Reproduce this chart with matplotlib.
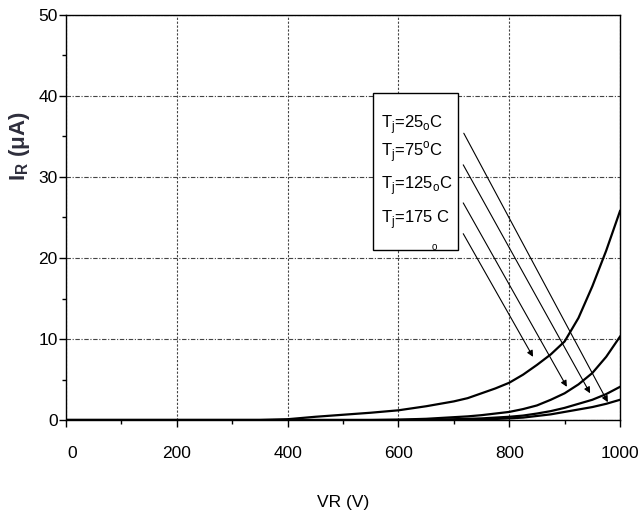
import matplotlib
matplotlib.use("Agg")
import matplotlib.pyplot as plt
import matplotlib.transforms as mtransforms
from matplotlib.patches import Rectangle
from matplotlib.ticker import MultipleLocator

plt.rcParams['font.family'] = ['Liberation Sans', 'DejaVu Sans']
plt.rcParams['mathtext.fontset'] = 'custom'
plt.rcParams['mathtext.rm'] = 'Liberation Sans'
plt.rcParams['mathtext.bf'] = 'Liberation Sans:bold'

# reverse voltage (V)
vr = [0, 50, 100, 150, 200, 250, 300, 350, 400, 450, 500, 550, 600, 650,
      700, 725, 750, 775, 800, 825, 850, 875, 900, 925, 950, 975, 1000]

# leakage current (uA)
ir_25 = [0, 0, 0, 0, 0, 0, 0, 0, 0.1, 0.4, 0.65, 0.9, 1.2, 1.7,
         2.3, 2.7, 3.3, 3.9, 4.6, 5.6, 6.8, 8.1, 9.7, 12.6, 16.5, 20.9, 25.8]
ir_75 = [0, 0, 0, 0, 0, 0, 0, 0, 0, 0, 0, 0, 0.05, 0.15,
         0.35, 0.45, 0.6, 0.8, 1.0, 1.35, 1.8, 2.5, 3.3, 4.4, 5.8, 7.8, 10.3]
ir_125 = [0, 0, 0, 0, 0, 0, 0, 0, 0, 0, 0, 0, 0, 0.02,
          0.1, 0.15, 0.2, 0.3, 0.4, 0.55, 0.8, 1.1, 1.5, 2.0, 2.5, 3.2, 4.1]
ir_175 = [0, 0, 0, 0, 0, 0, 0, 0, 0, 0, 0, 0, 0, 0,
          0.02, 0.05, 0.08, 0.13, 0.2, 0.3, 0.5, 0.7, 1.0, 1.3, 1.6, 2.0, 2.5]

curves = [ir_25, ir_75, ir_125, ir_175]

# legend text and where its arrow points
labels = [r"T$_\mathrm{j}$=25$_\mathrm{o}$C",
          r"T$_\mathrm{j}$=75$^\mathrm{o}$C",
          r"T$_\mathrm{j}$=125$_\mathrm{o}$C",
          r"T$_\mathrm{j}$=175 C"]
label_y = [36.5, 33.0, 28.9, 24.7]
arrow_start = [(718, 35.4), (717, 31.5), (717, 26.8), (717, 23.0)]
arrow_end = [(978, 2.2), (946, 3.3), (904, 4.1), (843, 7.8)]

fig = plt.figure(figsize=(6.39, 5.16), dpi=100)
ax = fig.add_axes([0.1033, 0.186, 0.867, 0.785])

for c in curves:
    ax.plot(vr, c, color='black', lw=1.6, zorder=3)

ax.set_xlim(0, 1000)
ax.set_ylim(0, 50)
ax.xaxis.set_major_locator(MultipleLocator(200))
ax.xaxis.set_minor_locator(MultipleLocator(100))
ax.yaxis.set_major_locator(MultipleLocator(10))
ax.yaxis.set_minor_locator(MultipleLocator(5))

ax.grid(True, which='major', axis='y', color='#444444', lw=0.8,
        ls=(0, (4, 1.5, 1, 1.5)))
ax.grid(True, which='major', axis='x', color='#444444', lw=0.8,
        ls=(0, (2, 1.5)))

ax.tick_params(axis='both', which='major', direction='out', length=5,
               width=1, labelsize=12.5)
ax.tick_params(axis='both', which='minor', direction='out', length=3,
               width=1)
ax.tick_params(axis='x', which='major', pad=14)
ax.tick_params(axis='y', which='major', pad=1)
for s in ax.spines.values():
    s.set_linewidth(1.0)

# the "0" under the x axis sits a little to the right in the original
fig.canvas.draw()
shift = mtransforms.ScaledTranslation(6 / 100, 0, fig.dpi_scale_trans)
for tick in ax.xaxis.get_major_ticks():
    if abs(tick.get_loc()) < 1e-9:
        tick.label1.set_transform(tick.label1.get_transform() + shift)

# legend box
box = Rectangle((554, 21.0), 154, 19.4, facecolor='white',
                edgecolor='black', lw=1.0, zorder=4)
ax.add_patch(box)
for lab, y in zip(labels, label_y):
    ax.text(569, y, lab, fontsize=12, va='center', ha='left', zorder=5)
ax.text(664, 21.3, "o", fontsize=7, va='center', ha='center', zorder=5)

for s, e in zip(arrow_start, arrow_end):
    ax.annotate("", xy=e, xytext=s,
                arrowprops=dict(arrowstyle='-|>', lw=0.8, color='black',
                                mutation_scale=9, shrinkA=0, shrinkB=0),
                zorder=5)

ax.set_xlabel("VR (V)", fontsize=12.5, labelpad=24)
fig.text(20 / 639, 1 - 146 / 516, r"I$_\mathbf{R}$ (μA)", rotation=90,
         fontsize=16, fontweight='bold', color='#2e2e3c',
         ha='center', va='center')

fig.savefig("out.png", dpi=100)
